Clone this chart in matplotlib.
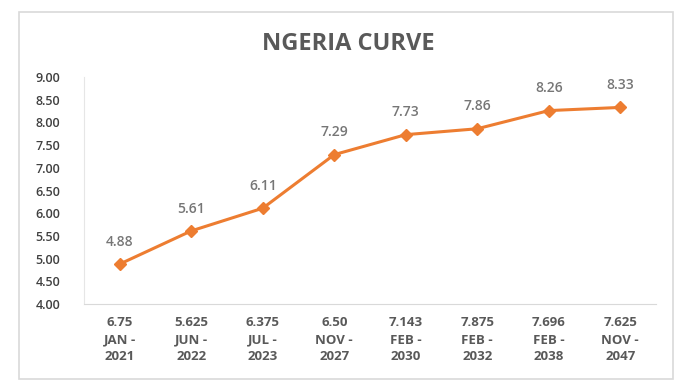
import matplotlib
matplotlib.use("Agg")
import matplotlib.pyplot as plt
from matplotlib.patches import Rectangle

plt.rcParams['font.family'] = ['Open Sans', 'DejaVu Sans']

# data
coupons = ["6.75", "5.625", "6.375", "6.50", "7.143", "7.875", "7.696", "7.625"]
months = ["JAN -", "JUN -", "JUL -", "NOV -", "FEB -", "FEB -", "FEB -", "NOV -"]
years = ["2021", "2022", "2023", "2027", "2030", "2032", "2038", "2047"]
yields = [4.88, 5.61, 6.11, 7.29, 7.73, 7.86, 8.26, 8.33]
yticks = [4.0, 4.5, 5.0, 5.5, 6.0, 6.5, 7.0, 7.5, 8.0, 8.5, 9.0]

W, H = 694, 390
fig = plt.figure(figsize=(W / 100, H / 100), dpi=100)
fig.patch.set_facecolor("white")

# outer chart border
fig.patches.append(Rectangle((19 / W, 1 - 379 / H), (673 - 19) / W, (379 - 12) / H,
                             transform=fig.transFigure, fill=False,
                             edgecolor="#d9d9d9", linewidth=1.2))

ax = fig.add_axes([84 / W, 1 - 304 / H, (656 - 84) / W, (304 - 77) / H])

x = list(range(len(yields)))
ax.plot(x, yields, color="#ED7D31", linewidth=2.2, marker="D", markersize=6,
        markeredgecolor="#ED7D31", zorder=3)

for xi, v in zip(x, yields):
    ax.annotate("%.2f" % v, (xi, v), xytext=(0, 11), textcoords="offset points",
                ha="center", va="bottom", fontsize=10, color="#767676", fontweight="semibold")

ax.set_xlim(-0.5, len(yields) - 0.5)
ax.set_ylim(4, 9)
ax.set_yticks(yticks)
ax.set_yticklabels(["%.2f" % t for t in yticks], fontsize=9, color="#404040",
                   fontweight="semibold")
ax.set_xticks(x)
ax.set_xticklabels(["%s\n%s\n%s" % (c, m, y) for c, m, y in zip(coupons, months, years)],
                   fontsize=9.5, color="#595959", fontweight="bold", linespacing=1.4)

for s in ["top", "right"]:
    ax.spines[s].set_visible(False)
ax.spines["left"].set_color("#e6e6e6")
ax.spines["bottom"].set_color("#d9d9d9")
ax.tick_params(axis="both", length=0)
ax.tick_params(axis="y", pad=17)
ax.tick_params(axis="x", pad=9)

fig.text(348 / W, 1 - 44 / H, "NGERIA CURVE", ha="center", va="center",
         fontsize=17, fontweight="bold", color="#595959")

fig.savefig("out.png", dpi=100, facecolor="white")
